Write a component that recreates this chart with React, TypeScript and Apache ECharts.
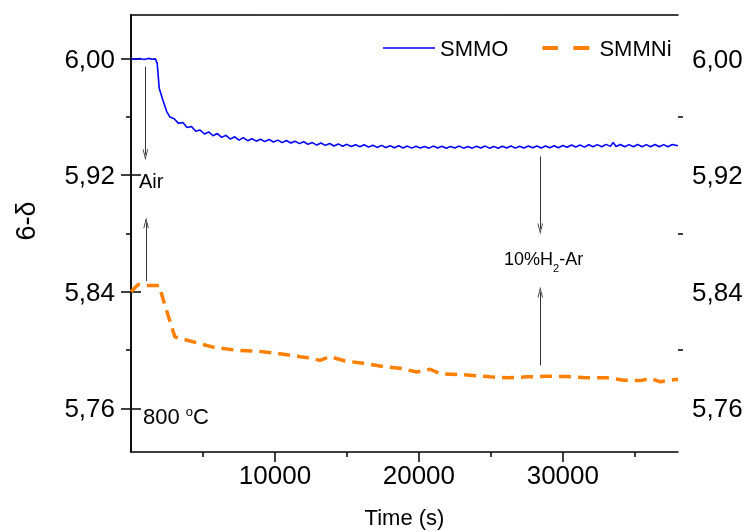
import React, { useEffect, useRef } from 'react';
import * as echarts from 'echarts';

// ---------- data ----------
const xRange = [0, 38000];
const yRange = [5.73, 6.03];
const xTickLabels = [10000, 20000, 30000];
const xMinorTicks = [5000, 15000, 25000, 35000];
const yTickLabels = [5.76, 5.84, 5.92, 6.0];
const yMinorTicks = [5.8, 5.88, 5.96];
const seriesNames = ['SMMO', 'SMMNi'];

const smmo: [number, number][] = [
  [0, 6.0], [300, 5.9996], [600, 6.0001], [900, 5.9995], [1200, 6.0002], [1500, 5.9996],
  [1700, 5.9999], [1820, 5.9968], [1960, 5.9797], [2200, 5.972], [2480, 5.9637], [2700, 5.96],
  [3000, 5.9588], [3300, 5.9556], [3600, 5.9562], [3900, 5.9527], [4200, 5.9535], [4500, 5.9502],
  [4800, 5.951], [5100, 5.9483], [5400, 5.9497], [5700, 5.9471], [6000, 5.9486], [6300, 5.946],
  [6600, 5.9474], [6900, 5.9448], [7200, 5.9464], [7500, 5.9441], [7800, 5.9458], [8100, 5.9437],
  [8400, 5.9451], [8700, 5.9434], [9000, 5.9447], [9300, 5.9431], [9600, 5.9445], [9900, 5.9428],
  [10200, 5.9441], [10500, 5.9424], [10800, 5.9438], [11100, 5.9421], [11400, 5.9434], [11700, 5.9417],
  [12000, 5.943], [12300, 5.9412], [12600, 5.9424], [12900, 5.9407], [13200, 5.9421], [13500, 5.9405],
  [13800, 5.9418], [14100, 5.9401], [14400, 5.9415], [14700, 5.9399], [15000, 5.9412], [15300, 5.9397],
  [15600, 5.941], [15900, 5.9395], [16200, 5.9409], [16500, 5.9393], [16800, 5.9406], [17100, 5.9391],
  [17400, 5.9405], [17700, 5.939], [18000, 5.9403], [18300, 5.9389], [18600, 5.9402], [18900, 5.9387],
  [19200, 5.94], [19500, 5.9386], [19800, 5.9399], [20100, 5.9387], [20400, 5.9398], [20700, 5.9386],
  [21000, 5.94], [21300, 5.9387], [21600, 5.9399], [21900, 5.9385], [22200, 5.9398], [22500, 5.9387],
  [22800, 5.94], [23100, 5.9386], [23400, 5.9397], [23700, 5.9386], [24000, 5.9399], [24300, 5.9387],
  [24600, 5.94], [24900, 5.9386], [25200, 5.9398], [25500, 5.9385], [25800, 5.9399], [26100, 5.9387],
  [26400, 5.9401], [26700, 5.9386], [27000, 5.9399], [27300, 5.9387], [27600, 5.94], [27900, 5.9388],
  [28200, 5.9401], [28500, 5.9387], [28800, 5.94], [29100, 5.9388], [29400, 5.9402], [29700, 5.9389],
  [30000, 5.9404], [30300, 5.9392], [30600, 5.9408], [30900, 5.9394], [31200, 5.9407], [31500, 5.9393],
  [31800, 5.9409], [32100, 5.9395], [32400, 5.941], [32700, 5.9396], [33000, 5.9412], [33300, 5.9398],
  [33500, 5.9425], [33700, 5.9397], [34000, 5.9411], [34300, 5.9395], [34600, 5.941], [34900, 5.9396],
  [35200, 5.9411], [35500, 5.9395], [35800, 5.941], [36100, 5.9396], [36400, 5.9411], [36700, 5.9395],
  [37000, 5.941], [37300, 5.9396], [37600, 5.9411], [38000, 5.9402],
];

const smmni: [number, number][] = [
  [0, 5.84], [500, 5.845], [1080, 5.8443], [1950, 5.8443], [2350, 5.831], [3050, 5.809],
  [4550, 5.805], [5710, 5.802], [7340, 5.7998], [8730, 5.7993], [10120, 5.7977], [11740, 5.7954],
  [12320, 5.7947], [13130, 5.7929], [13820, 5.7955], [14870, 5.7925], [16140, 5.7909], [17530, 5.7886],
  [18810, 5.7873], [19850, 5.7849], [20780, 5.7868], [21470, 5.7838], [23100, 5.783], [24930, 5.7816],
  [26110, 5.7809], [27500, 5.7816], [28900, 5.782], [30280, 5.7818], [31670, 5.7809], [33070, 5.7809],
  [34220, 5.7793], [35380, 5.779], [36080, 5.7805], [36770, 5.7782], [38000, 5.78],
];

// arrows: [time, from, to]
const arrows: [number, number, number][] = [
  [1000, 5.9945, 5.934],
  [1050, 5.8473, 5.8873],
  [28430, 5.9329, 5.8831],
  [28430, 5.7895, 5.8397],
];

const FONT = '"Liberation Sans", Arial, Helvetica, sans-serif';
const fmt = (v: number) => v.toFixed(2).replace('.', ',');
const CHEVRON = 'path://M5,0 L7.5,10 L6.7,10 L5,3 L3.3,10 L2.5,10 Z M0,10 L0.01,10 Z M10,10 L9.99,10 Z';
const ICON_SOLID = 'path://M0,0 L52,0 L52,1.6 L0,1.6 Z';
const ICON_DASH = 'path://M0,0 L15.5,0 L15.5,4 L0,4 Z M31,0 L47,0 L47,4 L31,4 Z M52,2 L52.01,2 L52,2.01 Z';

export default function App() {
  const ref = useRef<HTMLDivElement>(null);
  useEffect(() => {
    if (!ref.current) return;
    const chart = echarts.init(ref.current, undefined, { renderer: 'svg' });
    const axisLine = { show: true, lineStyle: { color: '#000', width: 1.5 } };
    const yBase = { type: 'value', min: yRange[0], max: yRange[1], splitLine: { show: false }, axisLine };
    const xBase = { type: 'value', min: xRange[0], max: xRange[1], splitLine: { show: false }, axisLine };
    const option: any = {
      animation: false,
      textStyle: { fontFamily: FONT, color: '#000' },
      grid: { left: 131, right: 68, top: 15, bottom: 80, containLabel: false, outerBoundsMode: 'none' },
      legend: {
        left: 378,
        top: 32,
        itemWidth: 52,
        itemHeight: 14,
        itemGap: 34,
        symbolKeepAspect: true,
        textStyle: { fontFamily: FONT, fontSize: 22, color: '#000' },
        data: [
          { name: seriesNames[0], icon: ICON_SOLID },
          { name: seriesNames[1], icon: ICON_DASH },
        ],
      },
      xAxis: [
        {
          ...xBase,
          position: 'bottom',
          name: 'Time (s)',
          nameLocation: 'middle',
          nameGap: 54,
          nameTextStyle: { fontFamily: FONT, fontSize: 22, color: '#000' },
          axisTick: { show: true, customValues: xTickLabels, length: 10, lineStyle: { color: '#000', width: 1.5 } },
          axisLabel: { show: true, customValues: xTickLabels, formatter: (v: number) => String(v), fontSize: 26, margin: 10, color: '#000', fontFamily: FONT },
        },
        {
          ...xBase,
          position: 'bottom',
          axisLine: { show: false },
          axisTick: { show: true, customValues: xMinorTicks, length: 5, lineStyle: { color: '#000', width: 1.5 } },
          axisLabel: { show: false },
        },
        {
          ...xBase,
          position: 'top',
          axisTick: { show: false },
          axisLabel: { show: false },
        },
      ],
      yAxis: [
        {
          ...yBase,
          position: 'left',
          axisTick: { show: true, customValues: yTickLabels, length: 10, lineStyle: { color: '#000', width: 1.5 } },
          axisLabel: { show: true, customValues: yTickLabels, formatter: fmt, fontSize: 26, margin: 16, color: '#000', fontFamily: FONT },
        },
        {
          ...yBase,
          position: 'left',
          axisLine: { show: false },
          axisTick: { show: true, customValues: yMinorTicks, length: 5, lineStyle: { color: '#000', width: 1.5 } },
          axisLabel: { show: false },
        },
        {
          ...yBase,
          position: 'right',
          axisTick: { show: true, customValues: yTickLabels, length: 10, lineStyle: { color: '#000', width: 1.5 } },
          axisLabel: { show: true, customValues: yTickLabels, formatter: fmt, fontSize: 26, margin: 14, color: '#000', fontFamily: FONT },
        },
        {
          ...yBase,
          position: 'right',
          axisLine: { show: false },
          axisTick: { show: true, customValues: yMinorTicks, length: 5, lineStyle: { color: '#000', width: 1.5 } },
          axisLabel: { show: false },
        },
      ],
      series: [
        {
          name: seriesNames[0],
          type: 'line',
          xAxisIndex: 0,
          yAxisIndex: 0,
          data: smmo,
          symbol: 'none',
          showSymbol: false,
          lineStyle: { color: '#0000ff', width: 1.6 },
          itemStyle: { color: '#0000ff' },
          z: 3,
          markLine: {
            silent: true,
            symbol: ['none', CHEVRON],
            symbolSize: 11,
            label: { show: false },
            emphasis: { disabled: true },
            lineStyle: { color: '#333', width: 1, type: 'solid' },
            data: arrows.map(([t, a, b]) => [{ coord: [t, a] }, { coord: [t, b] }]),
          },
        },
        {
          name: seriesNames[1],
          type: 'line',
          xAxisIndex: 0,
          yAxisIndex: 0,
          data: smmni,
          symbol: 'none',
          showSymbol: false,
          lineStyle: { color: '#ff7f00', width: 3.5, type: [12, 7] },
          itemStyle: { color: '#ff7f00' },
          z: 2,
        },
      ],
      graphic: [
        {
          type: 'text',
          x: 26,
          y: 221,
          rotation: Math.PI / 2,
          style: { text: '6-δ', fontSize: 27, fontFamily: FONT, fill: '#000', align: 'center', verticalAlign: 'middle' },
        },
        {
          type: 'text',
          x: 139,
          y: 181,
          style: { text: 'Air', fontSize: 20, fontFamily: FONT, fill: '#000', align: 'left', verticalAlign: 'middle' },
        },
        {
          type: 'text',
          x: 504,
          y: 250,
          style: {
            text: '{a|10%H}{s|2}{a|-Ar}',
            fontFamily: FONT,
            fill: '#000',
            align: 'left',
            verticalAlign: 'top',
            rich: {
              a: { fontSize: 18, lineHeight: 18, verticalAlign: 'top', fontFamily: FONT, fill: '#000' },
              s: { fontSize: 11, lineHeight: 11, verticalAlign: 'top', padding: [12, 0, 0, 0], fontFamily: FONT, fill: '#000' },
            },
          },
        },
        {
          type: 'text',
          x: 143,
          y: 405,
          style: {
            text: '{a|800 }{o|o}{a|C}',
            fontFamily: FONT,
            fill: '#000',
            align: 'left',
            verticalAlign: 'top',
            rich: {
              a: { fontSize: 22, lineHeight: 24, verticalAlign: 'top', fontFamily: FONT, fill: '#000' },
              o: { fontSize: 13, lineHeight: 13, verticalAlign: 'top', fontFamily: FONT, fill: '#000' },
            },
          },
        },
      ],
    };
    chart.setOption(option);
    return () => chart.dispose();
  }, []);
  return <div ref={ref} style={{ position: 'fixed', left: 0, top: 0, width: 746, height: 532 }} />;
}
